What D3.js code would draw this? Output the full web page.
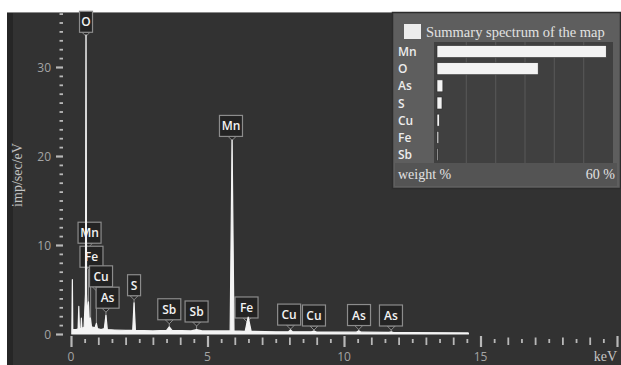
<!DOCTYPE html>
<html><head><meta charset="utf-8">
<script src="https://cdn.jsdelivr.net/npm/d3@7"></script>
<style>body{margin:0;background:#fff}svg{display:block}</style>
</head><body>
<svg id="c" width="621" height="365"></svg>
<script>
// ---- data ----
const spectrumKeV = [0.03,0.05,0.065,0.2,0.26,0.285,0.31,0.36,0.38,0.40,0.48,0.53,0.55,0.57,0.60,0.64,0.67,0.71,0.75,0.88,0.93,0.97,1.10,1.22,1.28,1.33,1.6,2.0,2.26,2.31,2.36,3.0,3.5,3.6,3.7,4.4,4.6,4.8,5.83,5.9,5.97,6.38,6.49,6.6,7.5,7.97,8.04,8.11,8.8,8.9,9.0,10.45,10.54,10.63,11.65,11.73,11.81,12.5,14.55,14.56];
const spectrumCounts = [0,6.1,0.5,0.5,0.6,3.1,0.6,0.6,1.8,0.6,0.8,4.5,33.6,4.5,2.0,3.6,1.4,1.8,0.8,0.7,1.2,0.6,0.5,0.6,2.1,0.5,0.45,0.4,0.4,3.5,0.4,0.35,0.4,0.8,0.4,0.35,0.5,0.35,0.35,21.8,0.35,0.3,1.9,0.3,0.25,0.25,0.45,0.25,0.25,0.32,0.22,0.2,0.35,0.2,0.18,0.25,0.16,0.15,0.12,0];

const labelNames = ['O','Mn','Fe','Cu','As','S','Sb','Sb','Mn','Fe','Cu','Cu','As','As'];
const labelPeakKeV = [0.55,0.64,0.72,0.93,1.28,2.31,3.6,4.6,5.9,6.45,8.04,8.9,10.54,11.73];
const labelBoxKeV  = [0.55,0.68,0.75,1.10,1.34,2.31,3.6,4.6,5.86,6.43,7.99,8.9,10.55,11.72];
const labelLevel   = [33.9,10.2,7.5,5.3,2.9,4.3,1.6,1.35,22.2,1.8,1.0,0.9,0.95,0.9];

const yTickLabels = [0,10,20,30];
const xTickLabels = [0,5,10,15];

const legendElements = ['Mn','O','As','S','Cu','Fe','Sb'];
const legendWeights  = [57.7,34.5,2.0,1.7,0.8,0.6,0.3];

// ---- drawing ----
const svg = d3.select('#c');
svg.append('rect').attr('x',7).attr('y',12).attr('width',614).attr('height',353).attr('fill','#323232');
svg.append('line').attr('x1',7).attr('x2',621).attr('y1',12.5).attr('y2',12.5).attr('stroke','#8a8a8a').attr('stroke-width',1);
svg.append('rect').attr('x',7).attr('y',13).attr('width',6).attr('height',352).attr('fill','#262626');

const x = d3.scaleLinear().domain([0,20]).range([71,617]);
const y = d3.scaleLinear().domain([0,36]).range([334,13.6]);

// y axis
const yAxis = d3.axisLeft(y).tickValues(d3.range(0,37)).tickSize(0).tickFormat('');
const gy = svg.append('g').attr('transform','translate(64,0)').call(yAxis);
gy.select('.domain').remove();
gy.selectAll('.tick').each(function(d){
  const major = d%10===0;
  d3.select(this).append('line').attr('x1',major?-8:-4.5).attr('x2',-1).attr('y1',0).attr('y2',0)
    .attr('stroke','#b8b8b8').attr('stroke-width',major?2.2:1.8);
});
yTickLabels.forEach(v=>{
  svg.append('text').attr('x',51).attr('y',y(v)+4.5).attr('text-anchor','end')
    .attr('font-family','Open Sans, sans-serif').attr('font-size',12).attr('fill','#a4a4a4').text(v);
});

// x axis
const gx = svg.append('g').attr('transform','translate(0,336)')
  .call(d3.axisBottom(x).tickValues(d3.range(0,20.01,0.5)).tickSize(0).tickFormat(''));
gx.select('.domain').remove();
gx.selectAll('.tick').each(function(d){
  const major = Math.abs(d%5)<1e-6, integer = Math.abs(d%1)<1e-6;
  d3.select(this).append('line').attr('x1',0).attr('x2',0)
    .attr('y1',major?0:(integer?1.5:3)).attr('y2',major?11:(integer?9:7))
    .attr('stroke','#b8b8b8').attr('stroke-width',major?2.2:1.8);
});
xTickLabels.forEach(v=>{
  svg.append('text').attr('x',x(v)).attr('y',361).attr('text-anchor','middle')
    .attr('font-family','Open Sans, sans-serif').attr('font-size',12).attr('fill','#a4a4a4').text(v);
});
svg.append('text').attr('x',617).attr('y',361).attr('text-anchor','end')
  .attr('font-family','Liberation Serif, serif').attr('font-size',14).attr('fill','#c4c4c4').text('keV');
svg.append('text').attr('transform','translate(22,175) rotate(-90)').attr('text-anchor','middle')
  .attr('font-family','Liberation Serif, serif').attr('font-size',14).attr('fill','#c4c4c4').text('imp/sec/eV');

// peak labels
const lab = svg.append('g');
labelNames.forEach((n,i)=>{
  const cx = x(labelBoxKeV[i]), bottom = y(labelLevel[i]);
  const px = x(labelPeakKeV[i]);
  const w = n.length===1 ? 13 : 23, h = 21;
  lab.append('line').attr('x1',px).attr('x2',px).attr('y1',bottom+3).attr('y2',y(0.3))
    .attr('stroke','#8c8c8c').attr('stroke-width',1);
  const px2 = Math.max(cx-w/2+4, Math.min(cx+w/2-4, px));
  lab.append('path').attr('d',`M${px2-4},${bottom}L${px2},${bottom+4}L${px2+4},${bottom}Z`)
    .attr('fill','#262626').attr('stroke','#8c8c8c').attr('stroke-width',1);
  lab.append('rect').attr('x',cx-w/2).attr('y',bottom-h).attr('width',w).attr('height',h)
    .attr('fill','#232323').attr('stroke','#8c8c8c').attr('stroke-width',1.2);
  lab.append('text').attr('x',cx).attr('y',bottom-h/2+4.5).attr('text-anchor','middle')
    .attr('font-family','Open Sans, sans-serif').attr('font-weight',600).attr('font-size',12)
    .attr('fill','#f2f2f2').text(n);
});

// spectrum
const pts = spectrumKeV.map((k,i)=>[k,spectrumCounts[i]]);
svg.append('path').datum(pts)
  .attr('d', d3.area().x(d=>x(d[0])).y0(y(0)).y1(d=>y(d[1])))
  .attr('fill','#f4f4f4').attr('stroke','#f4f4f4').attr('stroke-width',1.2).attr('stroke-linejoin','round');

// legend panel
const L = svg.append('g');
L.append('rect').attr('x',392.5).attr('y',12.5).attr('width',228).attr('height',176)
  .attr('fill','#5e5e5e').attr('stroke','#2c2c2c').attr('stroke-width',1.5);
L.append('rect').attr('x',404).attr('y',24).attr('width',17).attr('height',15).attr('fill','#ededed');
L.append('text').attr('x',426).attr('y',37).attr('font-family','Liberation Serif, serif').attr('font-size',14.5)
  .attr('fill','#e2e2e2').text('Summary spectrum of the map');
const bx = d3.scaleLinear().domain([0,60]).range([437,613]);
const by = d3.scaleBand().domain(legendElements).range([43,163]).paddingInner(0.3).paddingOuter(0.15);
L.append('rect').attr('x',434).attr('y',42).attr('width',179).attr('height',121).attr('fill','#404040');
L.append('rect').attr('x',395).attr('y',163).attr('width',222).attr('height',23).attr('fill','#545454');
[10,20,30,40,50].forEach(v=>{
  L.append('line').attr('x1',bx(v)).attr('x2',bx(v)).attr('y1',42).attr('y2',163).attr('stroke','#555').attr('stroke-width',1.2);
});
legendElements.forEach((e,i)=>{
  L.append('rect').attr('x',bx(0)).attr('y',by(e)).attr('width',Math.max(1,bx(legendWeights[i])-bx(0))).attr('height',by.bandwidth())
    .attr('fill','#f3f3f3').attr('stroke','#2a2a2a').attr('stroke-width',0.6);
  L.append('text').attr('x',398).attr('y',by(e)+by.bandwidth()/2+4.5).attr('font-family','Open Sans, sans-serif')
    .attr('font-weight',600).attr('font-size',12).attr('fill','#ececec').text(e);
});
L.append('text').attr('x',398).attr('y',179).attr('font-family','Liberation Serif, serif').attr('font-size',14)
  .attr('fill','#e2e2e2').text('weight %');
L.append('text').attr('x',615).attr('y',179).attr('text-anchor','end').attr('font-family','Liberation Serif, serif').attr('font-size',14)
  .attr('fill','#e2e2e2').text('60 %');
</script>
</body></html>
